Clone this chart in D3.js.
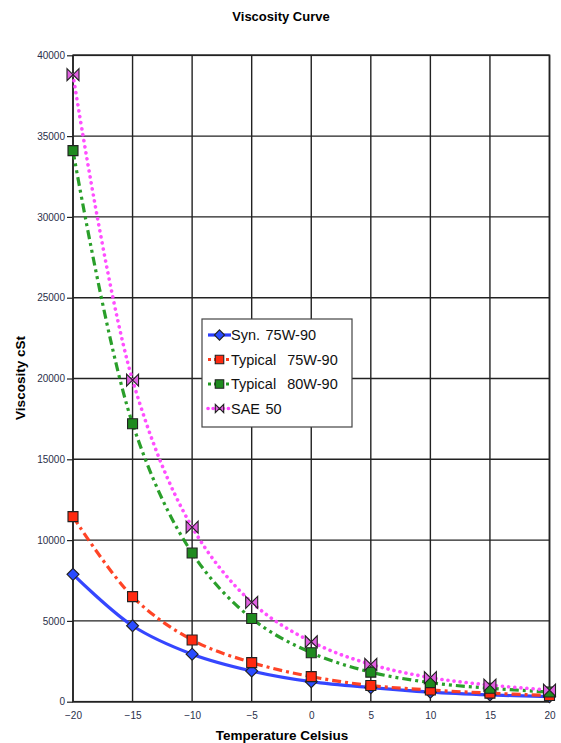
<!DOCTYPE html>
<html><head><meta charset="utf-8">
<script src="https://cdn.jsdelivr.net/npm/d3@7"></script>
<style>body{margin:0;background:#fff}svg{display:block}</style>
</head><body>
<svg id="c" width="561" height="743"></svg>
<script>
const temps = [-20,-15,-10,-5,0,5,10,15,20];
const syn75 = [7880,4700,2940,1900,1240,870,590,420,310];
const typ75 = [11450,6500,3820,2420,1550,1000,720,530,380];
const typ80 = [34100,17200,9200,5150,3030,1830,1180,830,600];
const sae50 = [38800,19900,10800,6150,3710,2310,1490,1030,720];
const seriesNames = ["Syn. 75W-90","Typical  75W-90","Typical  80W-90","SAE 50"];
const xTicks = [-20,-15,-10,-5,0,5,10,15,20];
const yTicks = [0,5000,10000,15000,20000,25000,30000,35000,40000];

const series = [
  {name:seriesNames[0], vals:syn75, color:"#2a3cff", dash:null, marker:"diamond", fill:"#2a4cff", width:3.2},
  {name:seriesNames[1], vals:typ75, color:"#ff3a1a", dash:"9,4,3,4", marker:"square", fill:"#ff2a10", width:3.2},
  {name:seriesNames[2], vals:typ80, color:"#1f9a1f", dash:"9,4,3,4,3,4", marker:"square", fill:"#1f8a1f", width:3.2},
  {name:seriesNames[3], vals:sae50, color:"#ff44ff", dash:"0.1,6", marker:"bowtie", fill:"#e060e0", width:3.6}
];

const svg = d3.select("#c");
const L=73, R=549.5, T=55.3, B=701.7;
const x = d3.scaleLinear().domain([-20,20]).range([L,R]);
const y = d3.scaleLinear().domain([0,40000]).range([B,T]);

// grid
const g = svg.append("g");
g.selectAll(".vg").data(xTicks).join("line")
  .attr("x1",d=>x(d)).attr("x2",d=>x(d)).attr("y1",T).attr("y2",B)
  .attr("stroke","#222").attr("stroke-width",1.4);
g.selectAll(".hg").data(yTicks).join("line")
  .attr("x1",L).attr("x2",R).attr("y1",d=>y(d)).attr("y2",d=>y(d))
  .attr("stroke","#222").attr("stroke-width",1.4);
g.append("rect").attr("x",L).attr("y",T).attr("width",R-L).attr("height",B-T)
  .attr("fill","none").attr("stroke","#222").attr("stroke-width",1.6);

// axes
const yAxis = d3.axisLeft(y).tickValues(yTicks).tickSize(6).tickPadding(2).tickFormat(d3.format("d"));
const ya = svg.append("g").attr("transform",`translate(${L},0)`).call(yAxis);
const xAxis = d3.axisBottom(x).tickValues(xTicks).tickSize(0).tickPadding(10).tickFormat(d3.format("d"));
const xa = svg.append("g").attr("transform",`translate(0,${B})`).call(xAxis);
[ya,xa].forEach(a=>{
  a.select(".domain").remove();
  a.selectAll("text").attr("font-family","Liberation Sans, Arial, sans-serif").attr("font-size",10).attr("fill","#2a2f4a");
  a.selectAll("line").attr("stroke","#222").attr("stroke-width",1.2);
});

// lines
const line = d3.line().x((d,i)=>x(temps[i])).y(d=>y(d)).curve(d3.curveCatmullRom.alpha(0.5));
series.forEach(s=>{
  svg.append("path").attr("d",line(s.vals)).attr("fill","none")
    .attr("stroke",s.color).attr("stroke-width",s.width)
    .attr("stroke-dasharray",s.dash).attr("stroke-linecap",s.marker==="bowtie"?"round":"butt")
    .attr("opacity",0.95);
});

function markerPath(type){
  if(type==="diamond") return "M0,-6L6,0L0,6L-6,0Z";
  if(type==="square") return "M-5,-5H5V5H-5Z";
  return "M-6,-6L0,0L-6,6Z M6,-6L0,0L6,6Z";
}
series.forEach(s=>{
  svg.selectAll(null).data(s.vals).join("path")
    .attr("transform",(d,i)=>`translate(${x(temps[i])},${y(d)})`)
    .attr("d",markerPath(s.marker)).attr("fill",s.fill)
    .attr("stroke","#222").attr("stroke-width",1.1).attr("stroke-linejoin","miter");
});

// legend
const lg = svg.append("g");
lg.append("rect").attr("x",202).attr("y",319).attr("width",150).attr("height",108)
  .attr("fill","#fff").attr("stroke","#444").attr("stroke-width",1.2);
series.forEach((s,i)=>{
  const yy = 335 + i*24.5;
  lg.append("line").attr("x1",208).attr("x2",231).attr("y1",yy).attr("y2",yy)
    .attr("stroke",s.color).attr("stroke-width",s.width)
    .attr("stroke-dasharray",s.marker==="diamond"?null:(s.marker==="bowtie"?"0.1,5":"3,3"))
    .attr("stroke-linecap",s.marker==="bowtie"?"round":"butt");
  const sc = s.marker==="bowtie"?0.7:0.85;
  lg.append("path").attr("transform",`translate(219.5,${yy}) scale(${sc})`)
    .attr("d",markerPath(s.marker)).attr("fill",s.fill).attr("stroke","#222").attr("stroke-width",1.1/sc);
  lg.append("text").attr("x",231).attr("y",yy+5).text(s.name)
    .attr("font-family","Liberation Sans, Arial, sans-serif").attr("font-size",14.5).attr("fill","#111")
    .attr("word-spacing",1.5)
    .style("white-space","pre").attr("xml:space","preserve");
});

// titles
svg.append("text").attr("x",281).attr("y",21).attr("text-anchor","middle")
  .attr("font-family","Liberation Sans, Arial, sans-serif").attr("font-weight","bold").attr("font-size",13)
  .text("Viscosity Curve");
svg.append("text").attr("x",282).attr("y",740).attr("text-anchor","middle")
  .attr("font-family","Liberation Sans, Arial, sans-serif").attr("font-weight","bold").attr("font-size",13.5)
  .text("Temperature Celsius");
svg.append("text").attr("transform","translate(25,378) rotate(-90)").attr("text-anchor","middle")
  .attr("font-family","Liberation Sans, Arial, sans-serif").attr("font-weight","bold").attr("font-size",13.5)
  .text("Viscosity cSt");
</script>
</body></html>
